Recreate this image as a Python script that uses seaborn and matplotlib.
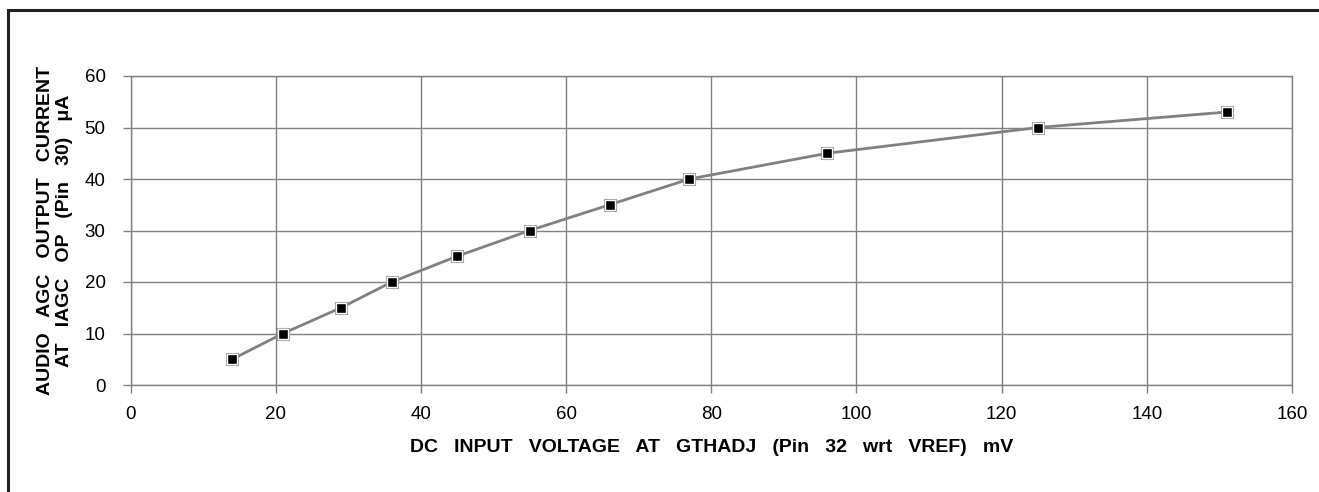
import matplotlib
matplotlib.use("Agg")
import matplotlib.pyplot as plt
import seaborn as sns
import pandas as pd
from matplotlib.lines import Line2D

# Data
voltage_mv = [14, 21, 29, 36, 45, 55, 66, 77, 96, 125, 151]
current_ua = [5, 10, 15, 20, 25, 30, 35, 40, 45, 50, 53]
x_ticks = [0, 20, 40, 60, 80, 100, 120, 140, 160]
y_ticks = [0, 10, 20, 30, 40, 50, 60]

df = pd.DataFrame({"v": voltage_mv, "i": current_ua})

sns.set_theme(style="white")
plt.rcParams["font.family"] = ["Liberation Sans", "DejaVu Sans"]
plt.rcParams["text.color"] = "black"
plt.rcParams["axes.labelcolor"] = "black"

fig = plt.figure(figsize=(13.19, 4.92), dpi=100)
ax = fig.add_axes([130.5 / 1319, 1 - 385 / 492, (1292 - 130.5) / 1319, (385 - 76) / 492])

sns.lineplot(data=df, x="v", y="i", ax=ax, color="#808080", linewidth=2,
             marker="s", markersize=6.5, markerfacecolor="black",
             markeredgecolor="white", markeredgewidth=1.0, zorder=3)
# light outline around markers
ax.plot(voltage_mv, current_ua, linestyle="none", marker="s", markersize=8.5,
        markerfacecolor="none", markeredgecolor="#9a9a9a", markeredgewidth=0.8, zorder=2.9)

ax.set_xlim(0, 160)
ax.set_ylim(0, 60)
ax.set_xticks(x_ticks)
ax.set_yticks(y_ticks)
ax.set_xticklabels([str(t) for t in x_ticks])
ax.set_yticklabels([str(t) for t in y_ticks])
ax.grid(True, color="#808080", linewidth=1)
for s in ax.spines.values():
    s.set_color("#808080")
    s.set_linewidth(1)
ax.tick_params(axis="both", which="major", length=6, width=1, color="#808080",
               labelsize=13.5, labelcolor="black", direction="out",
               bottom=True, left=True)
ax.tick_params(axis="x", pad=9)
ax.tick_params(axis="y", pad=12)

ax.set_xlabel("DC   INPUT   VOLTAGE   AT   GTHADJ   (Pin   32   wrt   VREF)   mV",
              fontsize=14, fontweight="bold", labelpad=12, color="black")
ax.set_ylabel("AUDIO   AGC   OUTPUT   CURRENT\nAT   IAGC   OP   (Pin   30)   \u03bcA",
              fontsize=14, fontweight="bold", labelpad=8, linespacing=1.2, color="black")

# outer frame (top and left edges visible)
fig.add_artist(Line2D([7.5 / 1319, 7.5 / 1319, 1.0], [0.0, 1 - 9.5 / 492, 1 - 9.5 / 492],
                      transform=fig.transFigure, color="#222222", linewidth=2.2,
                      solid_joinstyle="miter"))

fig.savefig("out.png", dpi=100, facecolor="white")
